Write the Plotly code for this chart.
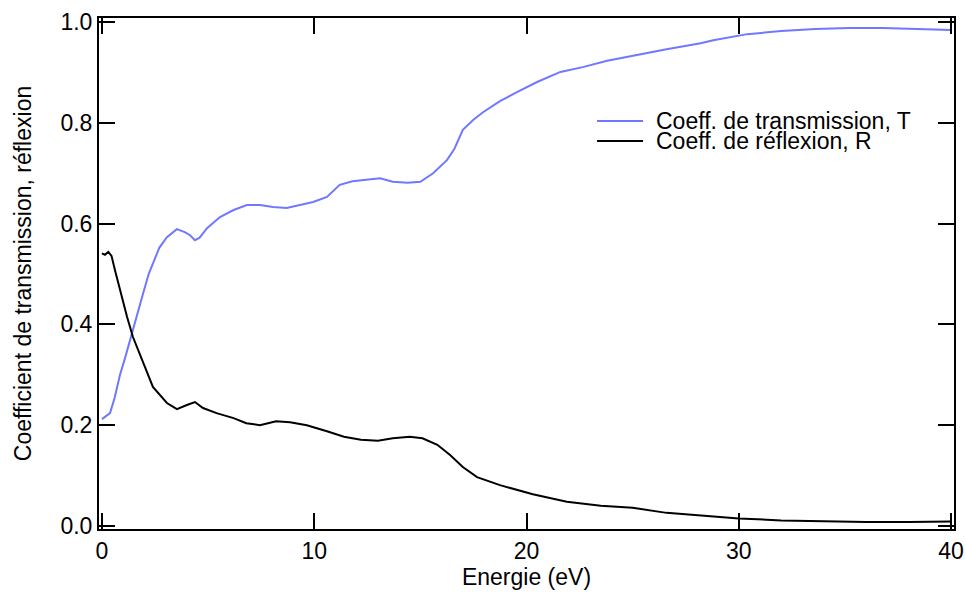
import plotly.graph_objects as go

# Transmission coefficient T
t_energy = [0.0, 0.2, 0.38, 0.6, 0.85, 1.1, 1.32, 1.6, 1.94, 2.2, 2.4, 2.7, 3.06, 3.3, 3.53, 3.9, 4.15, 4.38, 4.6, 4.95,
            5.56, 6.2, 6.83, 7.44, 8.06, 8.7, 9.33, 9.95, 10.6, 11.2, 11.8, 12.5, 13.1, 13.7, 14.4, 15.0, 15.6,
            16.25, 16.6, 17.0, 17.5, 17.95, 18.75, 19.55, 20.5, 21.6, 22.7, 23.8, 25.0, 26.6, 28.2, 28.8, 30.4,
            32.0, 33.6, 35.2, 36.8, 38.4, 40.0]
t_values = [0.212, 0.218, 0.224, 0.255, 0.300, 0.335, 0.369, 0.415, 0.462, 0.500, 0.522, 0.552, 0.573, 0.582, 0.589,
            0.583, 0.577, 0.567, 0.572, 0.591, 0.613, 0.627, 0.637, 0.637, 0.633, 0.631, 0.637, 0.643, 0.653,
            0.677, 0.684, 0.688, 0.690, 0.683, 0.681, 0.683, 0.700, 0.726, 0.748, 0.786, 0.806, 0.821, 0.843,
            0.861, 0.881, 0.901, 0.911, 0.923, 0.933, 0.946, 0.958, 0.964, 0.976, 0.982, 0.986, 0.988, 0.988,
            0.986, 0.984]

# Reflection coefficient R
r_energy = [0.0, 0.14, 0.3, 0.45, 0.61, 0.85, 1.18, 1.46, 1.94, 2.4, 3.06, 3.53, 4.0, 4.38, 4.76, 5.4, 6.2, 6.8,
            7.44, 8.2, 8.86, 9.65, 10.6, 11.4, 12.2, 13.0, 13.7, 14.5, 15.1, 15.8, 16.4, 17.0, 17.67, 18.75,
            20.3, 21.9, 23.5, 25.0, 26.6, 28.2, 30.0, 32.0, 34.0, 36.0, 38.0, 40.0]
r_values = [0.541, 0.538, 0.544, 0.536, 0.508, 0.468, 0.415, 0.375, 0.323, 0.276, 0.244, 0.232, 0.240, 0.246,
            0.234, 0.224, 0.214, 0.204, 0.200, 0.208, 0.206, 0.200, 0.188, 0.177, 0.171, 0.169, 0.174, 0.177,
            0.174, 0.161, 0.141, 0.117, 0.097, 0.081, 0.063, 0.048, 0.040, 0.036, 0.026, 0.021, 0.015, 0.011,
            0.009, 0.008, 0.008, 0.009]

series_names = ["Coeff. de transmission, T", "Coeff. de réflexion, R"]
series_colors = ["rgb(112,120,255)", "black"]

x_ticks = [0, 10, 20, 30, 40]
y_ticks = [0.0, 0.2, 0.4, 0.6, 0.8, 1.0]
y_tick_labels = ["0.0", "0.2", "0.4", "0.6", "0.8", "1.0"]

FONT = "Liberation Sans, Arial, Helvetica, sans-serif"
FS = 23

fig = go.Figure()
fig.add_trace(go.Scatter(x=t_energy, y=t_values, mode="lines", name=series_names[0],
                         line=dict(color=series_colors[0], width=2), showlegend=False))
fig.add_trace(go.Scatter(x=r_energy, y=r_values, mode="lines", name=series_names[1],
                         line=dict(color=series_colors[1], width=2), showlegend=False))

axis_common = dict(showline=True, linecolor="black", linewidth=2, mirror="ticks", ticks="inside",
                   ticklen=16, tickwidth=2, tickcolor="black", showgrid=False, zeroline=False,
                   automargin=False, tickfont=dict(family=FONT, size=FS, color="black"))

fig.update_xaxes(range=[-0.14, 40.14], tickvals=x_ticks, ticktext=[str(v) for v in x_ticks],
                 title=dict(text="Energie (eV)", font=dict(family=FONT, size=FS, color="black"), standoff=0),
                 **axis_common)
fig.update_yaxes(range=[-0.006, 1.008], tickvals=y_ticks, ticktext=y_tick_labels,
                 title=dict(text="Coefficient de transmission, réflexion",
                            font=dict(family=FONT, size=FS, color="black"), standoff=22),
                 **axis_common)

# Compact legend (reference uses tight line spacing)
legend_y = [0.7984, 0.7593]
for name, color, ly in zip(series_names, series_colors, legend_y):
    fig.add_shape(type="line", xref="paper", yref="paper", x0=0.5825, x1=0.6363, y0=ly, y1=ly,
                  line=dict(color=color, width=2))
    fig.add_annotation(xref="paper", yref="paper", x=0.6503, y=ly, xanchor="left", yanchor="middle",
                       text=name, showarrow=False, borderpad=0,
                       font=dict(family=FONT, size=FS, color="black"))

fig.update_layout(
    width=966, height=594,
    margin=dict(l=99, r=12, t=18, b=65),
    paper_bgcolor="white", plot_bgcolor="white",
    font=dict(family=FONT, size=FS, color="black"),
    showlegend=False,
)

fig.write_html("out.html", config={"displayModeBar": False},
               post_script="document.body.style.margin='0';document.body.style.overflow='hidden';")
